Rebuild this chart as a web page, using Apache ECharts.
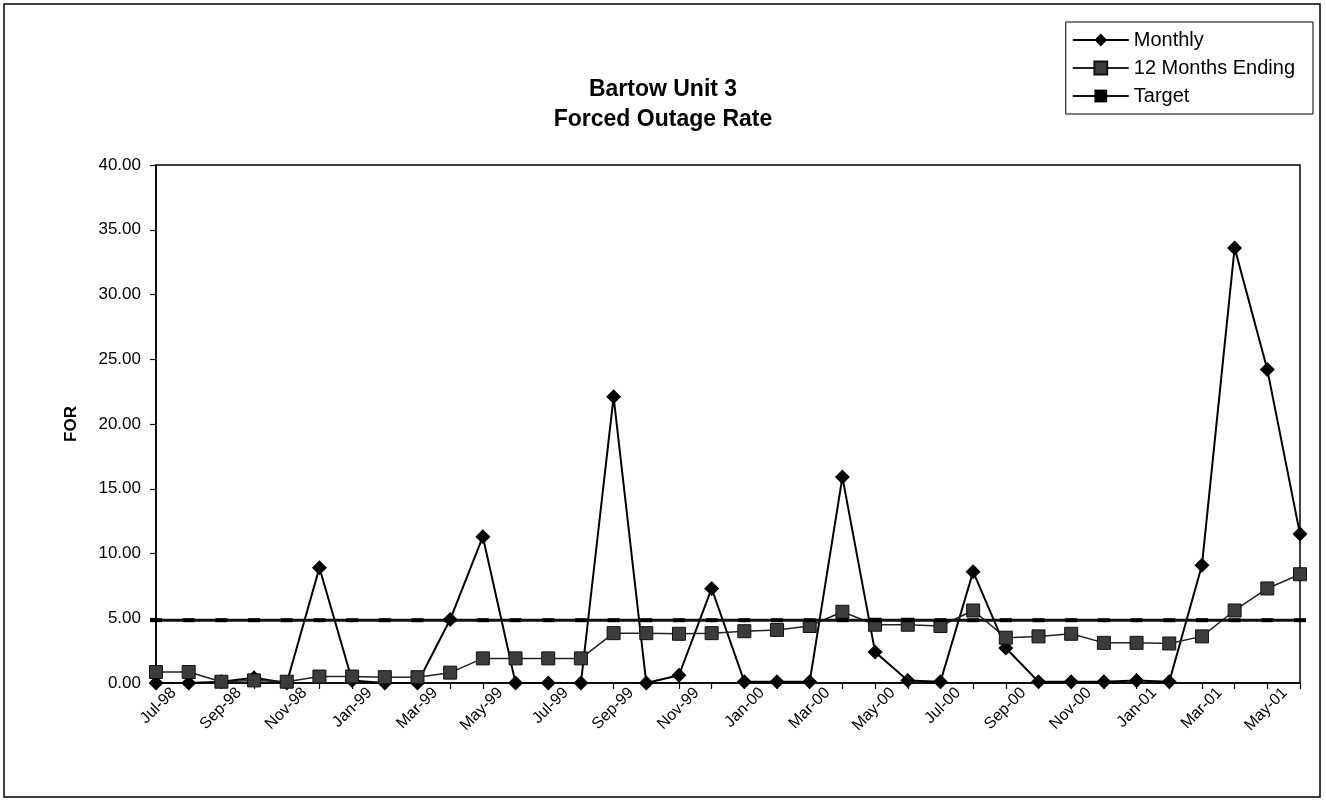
<!DOCTYPE html>
<html>
<head>
<meta charset="utf-8">
<script src="https://cdn.jsdelivr.net/npm/echarts@6/dist/echarts.min.js"></script>
<style>
html,body{margin:0;padding:0;background:#fff;}
#chart{width:1326px;height:805px;}
</style>
</head>
<body>
<div id="chart"></div>
<script>
var months = ['Jul-98','Aug-98','Sep-98','Oct-98','Nov-98','Dec-98','Jan-99','Feb-99','Mar-99','Apr-99','May-99','Jun-99',
  'Jul-99','Aug-99','Sep-99','Oct-99','Nov-99','Dec-99','Jan-00','Feb-00','Mar-00','Apr-00','May-00','Jun-00',
  'Jul-00','Aug-00','Sep-00','Oct-00','Nov-00','Dec-00','Jan-01','Feb-01','Mar-01','Apr-01','May-01','Jun-01'];
var monthly = [0, 0, 0.1, 0.4, 0, 8.9, 0.2, 0, 0, 4.9, 11.3, 0,
  0, 0, 22.1, 0, 0.6, 7.3, 0.1, 0.1, 0.1, 15.9, 2.4, 0.2,
  0.1, 8.6, 2.7, 0.1, 0.1, 0.1, 0.2, 0.1, 9.1, 33.6, 24.2, 11.5];
var twelveMonths = [0.85, 0.85, 0.1, 0.2, 0.1, 0.5, 0.5, 0.45, 0.45, 0.8, 1.9, 1.9,
  1.9, 1.9, 3.85, 3.85, 3.8, 3.85, 4.0, 4.1, 4.4, 5.5, 4.5, 4.5,
  4.4, 5.6, 3.5, 3.6, 3.8, 3.1, 3.1, 3.05, 3.6, 5.6, 7.3, 8.4];
var target = [4.85, 4.85, 4.85, 4.85, 4.85, 4.85, 4.85, 4.85, 4.85, 4.85, 4.85, 4.85,
  4.85, 4.85, 4.85, 4.85, 4.85, 4.85, 4.85, 4.85, 4.85, 4.85, 4.85, 4.85,
  4.85, 4.85, 4.85, 4.85, 4.85, 4.85, 4.85, 4.85, 4.85, 4.85, 4.85, 4.85];
var yTicks = {min: 0, max: 40, interval: 5};

var FONT = '"Liberation Sans", Arial, sans-serif';
var chart = echarts.init(document.getElementById('chart'));
chart.setOption({
  backgroundColor: '#fff',
  animation: false,
  title: {
    text: 'Bartow Unit 3\nForced Outage Rate',
    left: 'center',
    top: 70,
    textStyle: {fontFamily: FONT, fontSize: 23, fontWeight: 'bold', color: '#000', lineHeight: 30}
  },
  legend: {
    orient: 'vertical',
    right: 13,
    top: 22,
    padding: [8, 18, 8, 6],
    itemGap: 8,
    itemWidth: 56,
    itemHeight: 16,
    borderColor: '#000',
    borderWidth: 1,
    textStyle: {fontFamily: FONT, fontSize: 20, color: '#000'},
    data: ['Monthly', '12 Months Ending', 'Target']
  },
  graphic: [{
    type: 'rect',
    shape: {x: 4, y: 4, width: 1316, height: 793},
    style: {fill: 'none', stroke: '#000', lineWidth: 1.5},
    silent: true
  }],
  grid: {
    left: 156, right: 26, top: 165, bottom: 122,
    show: true, borderColor: '#000', borderWidth: 1.5,
    outerBoundsMode: 'none'
  },
  xAxis: {
    type: 'category',
    data: months,
    boundaryGap: false,
    axisLine: {lineStyle: {color: '#000', width: 1.5}},
    axisTick: {interval: 0, length: 6, lineStyle: {color: '#000', width: 1.2}},
    axisLabel: {interval: 1, rotate: 45, fontFamily: FONT, fontSize: 16, color: '#000',
      margin: 25, padding: [0, -25, 0, 0]}
  },
  yAxis: {
    type: 'value',
    min: yTicks.min, max: yTicks.max, interval: yTicks.interval,
    name: 'FOR',
    nameLocation: 'middle',
    nameRotate: 90,
    nameGap: 76,
    nameTextStyle: {fontFamily: FONT, fontSize: 17, fontWeight: 'bold', color: '#000'},
    axisLine: {show: true, lineStyle: {color: '#000', width: 1.5}},
    axisTick: {show: true, length: 6, lineStyle: {color: '#000', width: 1.2}},
    splitLine: {show: false},
    axisLabel: {fontFamily: FONT, fontSize: 17, color: '#000', margin: 15,
      formatter: function (v) { return v.toFixed(2); }}
  },
  series: [
    {
      name: 'Monthly', type: 'line', data: monthly,
      symbol: 'diamond', symbolSize: 15,
      lineStyle: {color: '#000', width: 2},
      itemStyle: {color: '#000'}
    },
    {
      name: '12 Months Ending', type: 'line', data: twelveMonths,
      symbol: 'rect', symbolSize: 13,
      lineStyle: {color: '#222', width: 1.5},
      itemStyle: {color: '#3c3c3c', borderColor: '#111', borderWidth: 1}
    },
    {
      name: 'Target', type: 'line', data: target,
      symbol: 'rect', symbolSize: [12, 4],
      lineStyle: {color: '#111', width: 3},
      itemStyle: {color: '#000'}
    }
  ]
});
</script>
</body>
</html>
